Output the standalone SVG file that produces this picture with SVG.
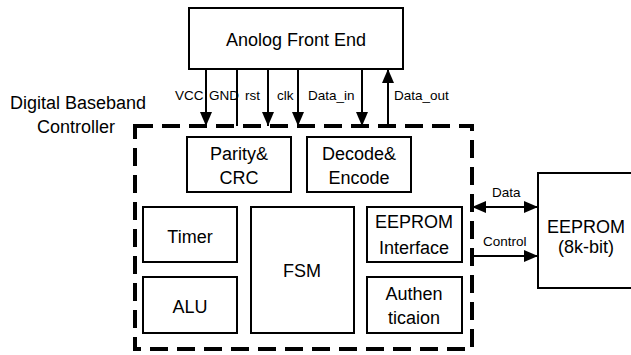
<svg xmlns="http://www.w3.org/2000/svg" width="631" height="355" viewBox="0 0 631 355">
<style>
.box{fill:#fff;stroke:#000;stroke-width:2}
.t{font-family:"Liberation Sans",Arial,sans-serif;font-size:18px;fill:#000;text-anchor:middle}
.s{font-family:"Liberation Sans",Arial,sans-serif;font-size:13.5px;fill:#000}
.ln{fill:none;stroke:#000;stroke-width:2}
.dash{fill:none;stroke:#000;stroke-width:4;stroke-dasharray:18 9}
</style>
<defs>
<marker id="ah" viewBox="0 0 10 10" refX="10" refY="5" markerWidth="10" markerHeight="10" markerUnits="userSpaceOnUse" orient="auto-start-reverse">
<path d="M0,0 L10,5 L0,10 z" fill="#000"/>
</marker>
<marker id="ahl" viewBox="0 0 14 12" refX="14" refY="6" markerWidth="14" markerHeight="12" markerUnits="userSpaceOnUse" orient="auto-start-reverse">
<path d="M0,0 L14,6 L0,12 z" fill="#000"/>
</marker>
</defs>
<g id="label-dbc">
<text class="t" x="78" y="109">Digital Baseband</text>
<text class="t" x="76" y="133">Controller</text>
</g>
<g id="dbc-border">
<rect class="dash" x="135" y="126" width="337" height="223"/>
</g>
<g id="afe">
<rect class="box" x="189" y="8" width="214" height="61"/>
<text class="t" x="296" y="46">Anolog Front End</text>
</g>
<g id="parity">
<rect class="box" x="187" y="137" width="104" height="55"/>
<text class="t" x="239" y="160">Parity&amp;</text>
<text class="t" x="239" y="184">CRC</text>
</g>
<g id="decode">
<rect class="box" x="307" y="137" width="104" height="55"/>
<text class="t" x="359" y="160">Decode&amp;</text>
<text class="t" x="359" y="184">Encode</text>
</g>
<g id="timer">
<rect class="box" x="143" y="207" width="94" height="55"/>
<text class="t" x="190" y="243">Timer</text>
</g>
<g id="alu">
<rect class="box" x="143" y="277" width="94" height="56"/>
<text class="t" x="190" y="313">ALU</text>
</g>
<g id="fsm">
<rect class="box" x="251" y="207" width="103" height="126"/>
<text class="t" x="302" y="277">FSM</text>
</g>
<g id="eeprom-if">
<rect class="box" x="367" y="207" width="95" height="55"/>
<text class="t" x="414" y="228">EEPROM</text>
<text class="t" x="414" y="254">Interface</text>
</g>
<g id="auth">
<rect class="box" x="367" y="277" width="95" height="56"/>
<text class="t" x="414" y="300">Authen</text>
<text class="t" x="414" y="324">ticaion</text>
</g>
<g id="eeprom">
<rect class="box" x="538" y="173" width="102" height="115"/>
<text class="t" x="586" y="233">EEPROM</text>
<text class="t" x="586" y="253">(8k-bit)</text>
</g>
<g id="connectors">
<line class="ln" x1="206" y1="69" x2="206" y2="126" marker-end="url(#ahl)"/>
<line class="ln" x1="237" y1="69" x2="237" y2="126"/>
<line class="ln" x1="268" y1="69" x2="268" y2="126" marker-end="url(#ahl)"/>
<line class="ln" x1="298" y1="69" x2="298" y2="126" marker-end="url(#ahl)"/>
<line class="ln" x1="362" y1="69" x2="362" y2="126" marker-end="url(#ahl)"/>
<line class="ln" x1="388" y1="126" x2="388" y2="69" marker-end="url(#ahl)"/>
<line class="ln" x1="472" y1="207" x2="538" y2="207" marker-start="url(#ahl)" marker-end="url(#ahl)"/>
<line class="ln" x1="472" y1="256" x2="538" y2="256" marker-end="url(#ahl)"/>
<text class="s" x="175" y="100">VCC</text>
<text class="s" x="209" y="100">GND</text>
<text class="s" x="245" y="100">rst</text>
<text class="s" x="277" y="100">clk</text>
<text class="s" x="308" y="100">Data_in</text>
<text class="s" x="394" y="100">Data_out</text>
<text class="s" x="492" y="197">Data</text>
<text class="s" x="483" y="246">Control</text>
</g>
</svg>
